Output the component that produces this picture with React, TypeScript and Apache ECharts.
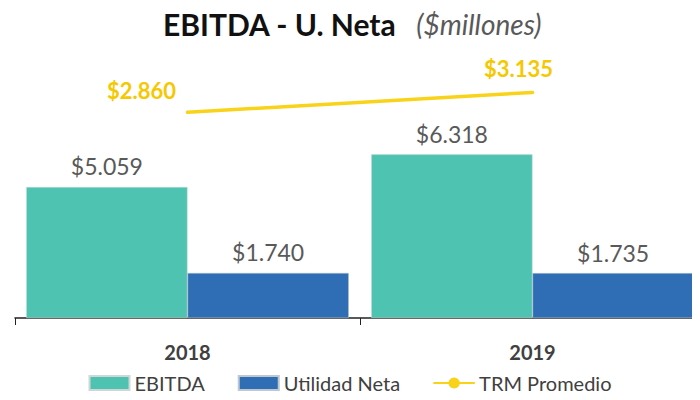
import React, { useEffect, useRef } from "react";
import * as echarts from "echarts";

const categories = ["2018", "2019"];
const ebitda = [5059, 6318];
const utilidadNeta = [1740, 1735];
const trm = [2860, 3135];

const fmt = (v: number) => "$" + v.toLocaleString("de-DE");

export default function App() {
  const ref = useRef<HTMLDivElement>(null);
  useEffect(() => {
    if (!ref.current) return;
    const chart = echarts.init(ref.current, null, { renderer: "svg" });
    const font = "Lato, 'Open Sans', sans-serif";
    chart.setOption({
      animation: false,
      textStyle: { fontFamily: font },
      title: {
        text: "{a|EBITDA - U. Neta}{b|   ($millones)}",
        left: 158,
        top: 4,
        textStyle: {
          rich: {
            a: { fontSize: 30, fontWeight: "bold", color: "#111", fontFamily: font },
            b: { fontSize: 28, fontStyle: "italic", fontWeight: "normal", color: "#595959", fontFamily: font },
          },
        },
      },
      legend: {
        bottom: 2,
        left: "center",
        itemWidth: 40,
        itemHeight: 14,
        itemGap: 33,
        textStyle: { fontSize: 20, color: "#404040", fontFamily: font },
        data: [
          { name: "EBITDA", icon: "rect" },
          { name: "Utilidad Neta", icon: "rect" },
          { name: "TRM Promedio" },
        ],
      },
      grid: { left: 15, width: 690, top: 59, bottom: 82, containLabel: false, outerBoundsMode: "none" },
      xAxis: {
        type: "category",
        data: categories,
        boundaryGap: true,
        axisLine: { lineStyle: { color: "#222", width: 1.5 } },
        axisTick: { show: true, length: 7, lineStyle: { color: "#222" } },
        axisLabel: { fontSize: 20, fontWeight: "bold", color: "#404040", margin: 24, fontFamily: font },
      },
      yAxis: [
        { type: "value", min: 0, max: 10000, show: false, splitLine: { show: false } },
        { type: "value", min: 0, max: 3600, show: false, splitLine: { show: false } },
      ],
      series: [
        {
          name: "EBITDA",
          type: "bar",
          data: ebitda,
          barGap: "0%",
          barCategoryGap: "6.5%",
          itemStyle: { color: "#4EC3B1", borderColor: "#cfd8d6", borderWidth: 0.5 },
          label: {
            show: true,
            position: "top",
            distance: 9,
            fontSize: 23,
            color: "#595959",
            fontFamily: font,
            formatter: (p: any) => fmt(p.value),
          },
        },
        {
          name: "Utilidad Neta",
          type: "bar",
          data: utilidadNeta,
          barGap: "0%",
          barCategoryGap: "6.5%",
          itemStyle: { color: "#2F6EB5", borderColor: "#bfc7d0", borderWidth: 0.5 },
          label: {
            show: true,
            position: "top",
            distance: 9,
            fontSize: 23,
            color: "#595959",
            fontFamily: font,
            formatter: (p: any) => fmt(p.value),
          },
        },
        {
          name: "TRM Promedio",
          type: "line",
          yAxisIndex: 1,
          data: trm.map((v, i) => ({
            value: v,
            label: {
              offset: i === 0 ? [-46, -4] : [-14, -6],
            },
          })),
          symbol: "circle",
          symbolSize: 3,
          showSymbol: true,
          lineStyle: { color: "#F9D31A", width: 3.5, cap: "round" },
          itemStyle: { color: "#F9D31A" },
          label: {
            show: true,
            position: "top",
            distance: 5,
            fontSize: 22,
            fontWeight: "bold",
            color: "#F5C800",
            fontFamily: font,
            formatter: (p: any) => fmt(p.value),
          },
        },
      ],
    });
    return () => chart.dispose();
  }, []);
  return <div ref={ref} style={{ width: 700, height: 400, margin: -8, overflow: "hidden" }} />;
}
